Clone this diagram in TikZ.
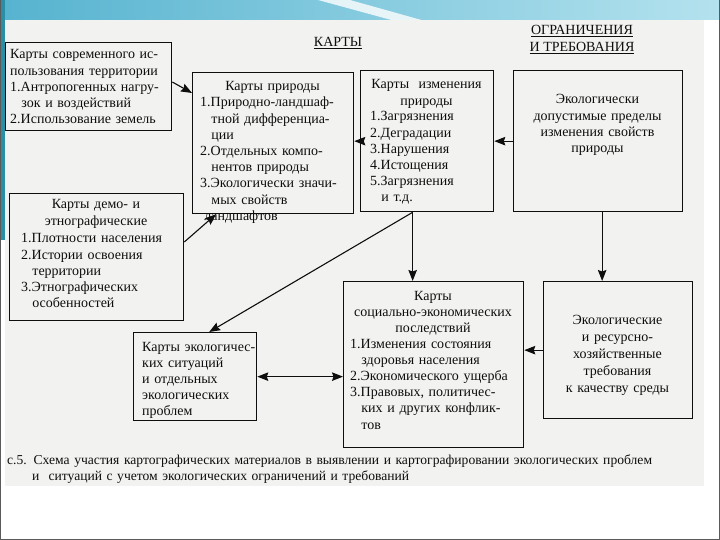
\documentclass[tikz,border=0pt]{standalone}
\usepackage{fontspec}
\setmainfont{Liberation Serif}
\usepackage{tikz}
\usetikzlibrary{arrows.meta,positioning,calc}
\definecolor{cInk}{HTML}{0E0E0E}
\definecolor{cPage}{HTML}{F2F2F0}
\definecolor{cSky}{HTML}{B4E2EE}
\definecolor{cSkyDk}{HTML}{56B3CF}
\definecolor{cTeal}{HTML}{2A8EA6}
\definecolor{cFrame}{HTML}{5A5A5A}
\newcommand\scanfont{\fontsize{14}{16.2}\selectfont}
\newcommand\capfont{\fontsize{13.6}{16.2}\selectfont}
\newcommand\indt{\hspace*{0.8em}}
\tikzset{
  frm/.style={draw=cInk,line width=1.3pt,anchor=north west,inner sep=0pt},
  txt/.style={text=cInk,font=\scanfont,inner sep=0pt,text width=#1,align=left,anchor=base west},
  txt/.default=160pt,
  ctxt/.style={text=cInk,font=\scanfont,inner sep=0pt,text width=#1,align=center,anchor=base},
  ctxt/.default=160pt,
  hdr/.style={text=cInk,font=\scanfont,inner sep=0pt,align=center},
  arr/.style={-{Stealth[length=11pt,width=8.5pt,inset=1.5pt]},line width=1.1pt,draw=cInk},
  darr/.style={{Stealth[length=11pt,width=8.5pt,inset=1.5pt]}-{Stealth[length=11pt,width=8.5pt,inset=1.5pt]},line width=1.1pt,draw=cInk},
}
\begin{document}
\begin{tikzpicture}[x=1pt,y=-1pt]
  \useasboundingbox (0,0) rectangle (720,540);
  % slide background and scanned page
  \fill[white] (0,0) rectangle (720,540);
  \shade[left color=cSkyDk,right color=cSky] (0,0) rectangle (720,20);
  \fill[white,opacity=0.8] (318,0) -- (350,0) -- (425,21) -- (395,21) -- cycle;
  \fill[cTeal] (0,0) rectangle (5,240);
  \fill[cPage] (5,20) rectangle (704,486);
  \draw[cFrame,line width=0.8pt] (0.4,0) -- (0.4,539.6) -- (719.6,539.6) -- (719.6,0);

  % headings
  \node[hdr] (hdMaps) at (338,43) {\underline{КАРТЫ}};
  \node[hdr] (hdLim) at (582,39.5) {\underline{ОГРАНИЧЕНИЯ}\\[0.6pt]\underline{И ТРЕБОВАНИЯ}};

  % frames
  \node[frm,minimum width=166pt,minimum height=88pt]  (luse) at (5,42)    {};
  \node[frm,minimum width=161pt,minimum height=141pt] (nat)  at (192,72)  {};
  \node[frm,minimum width=133pt,minimum height=141pt] (chg)  at (360,70)  {};
  \node[frm,minimum width=169pt,minimum height=141pt] (lim)  at (513,70)  {};
  \node[frm,minimum width=174pt,minimum height=127pt] (demo) at (9,193)   {};
  \node[frm,minimum width=180pt,minimum height=166pt] (soc)  at (343,281) {};
  \node[frm,minimum width=149pt,minimum height=137pt] (req)  at (543,281) {};
  \node[frm,minimum width=123pt,minimum height=88pt]  (sit)  at (133,332) {};

  % texts
  \node[txt=165pt] (luseT) at (10,59) {Карты современного ис-\\пользования территории\\1.Антропогенных нагру-\\\indt зок и воздействий\\2.Использование земель};
  \node[ctxt=150pt] (natT) at (272.5,91) {Карты природы};
  \node[txt=160pt] (natL) at (200,107) {1.Природно-ландшаф-\\\indt тной дифференциа-\\\indt ции\\2.Отдельных компо-\\\indt нентов природы\\3.Экологически значи-\\\indt мых свойств\\\hspace*{0.3em}ландшафтов};
  \node[ctxt=130pt] (chgT) at (426.5,89) {Карты\ \ изменения\\природы};
  \node[txt=125pt] (chgL) at (370,121) {1.Загрязнения\\2.Деградации\\3.Нарушения\\4.Истощения\\5.Загрязнения\\\indt и т.д.};
  \node[ctxt=165pt] (limT) at (597.5,104) {Экологически\\допустимые пределы\\изменения свойств\\природы};
  \node[ctxt=170pt] (demoT) at (96,209) {Карты демо- и\\этнографические};
  \node[txt=165pt] (demoL) at (21,243) {1.Плотности населения\\2.Истории освоения\\\indt территории\\3.Этнографических\\\indt особенностей};
  \node[ctxt=175pt] (socT) at (433,300) {Карты\\социально-экономических\\последствий};
  \node[txt=172pt] (socL) at (350,348) {1.Изменения состояния\\\indt здоровья населения\\2.Экономического ущерба\\3.Правовых, политичес-\\\indt ких и других конфлик-\\\indt тов};
  \node[ctxt=145pt,font=\fontsize{14}{17.2}\selectfont] (reqT) at (617.5,324) {Экологические\\и ресурсно-\\хозяйственные\\требования\\к качеству среды};
  \node[txt=120pt] (sitT) at (142,351) {Карты экологичес-\\ких ситуаций\\и отдельных\\экологических\\проблем};

  % caption
  \node[txt=700pt,font=\capfont] (cap) at (7,464) {с.5. Схема участия картографических материалов в выявлении и картографировании экологических проблем\\\hspace*{25pt}и\ \ ситуаций с учетом экологических ограничений и требований};

  % connectors
  \coordinate (split) at ([xshift=-14.5pt]chg.south);
  \draw[arr] ([yshift=-40pt]luse.north east) -- ([yshift=-21pt]nat.north west);
  \draw[arr] ([yshift=-49pt]demo.north east) -- ([xshift=24pt]nat.south west);
  \draw[arr] (chg.west) -- (chg.west -| nat.east);
  \draw[arr] (lim.west) -- (lim.west -| chg.east);
  \draw[arr] (split) -- (split |- soc.north);
  \draw[arr] (split) -- ([xshift=14pt]sit.north);
  \draw[arr] ([xshift=4pt]lim.south) -- ([xshift=4pt]lim.south |- req.north);
  \draw[arr] (req.west) -- (req.west -| soc.east);
  \draw[darr] (sit.east) -- (sit.east -| soc.west);
\end{tikzpicture}
\end{document}
